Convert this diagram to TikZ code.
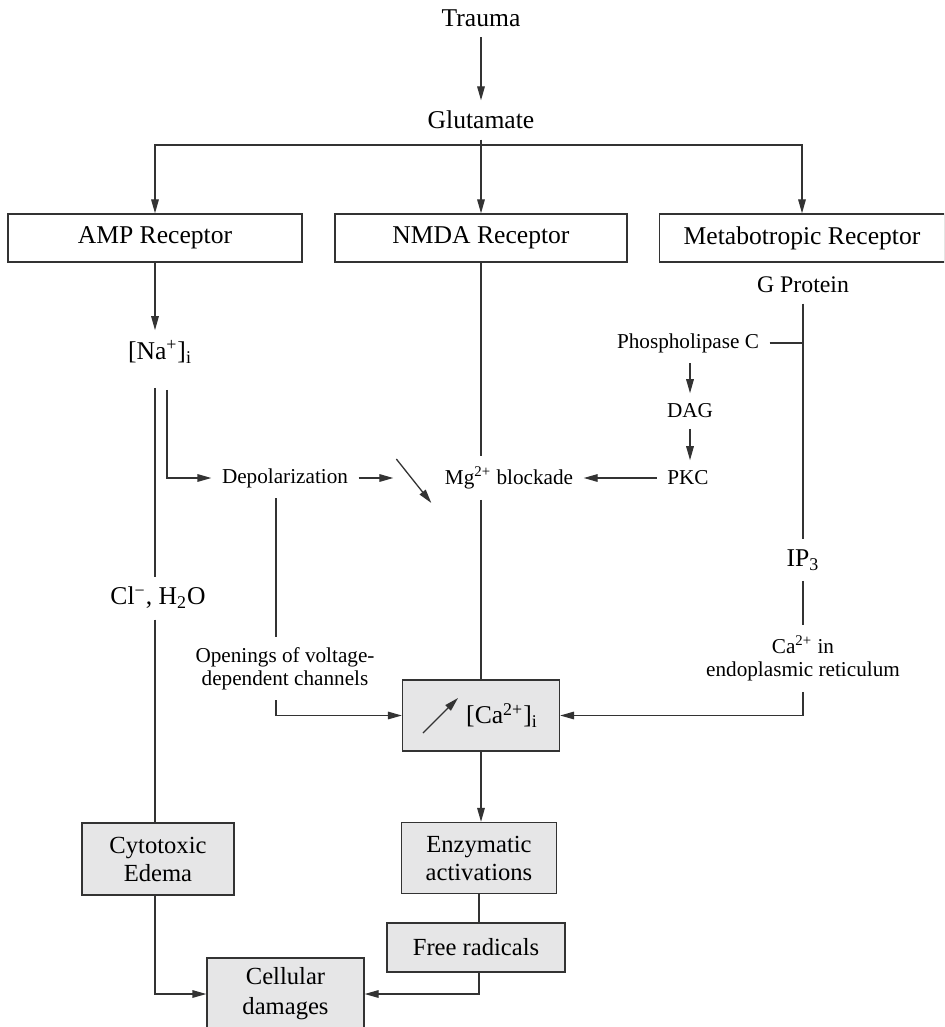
\documentclass[tikz,border=0pt]{standalone}
\usepackage{fontspec}
\setmainfont{Liberation Serif}
\usetikzlibrary{arrows.meta}

\definecolor{linegray}{HTML}{333333}
\definecolor{boxgray}{HTML}{E6E6E7}
\newcommand{\bigsz}{\fontsize{12.8}{15}\selectfont}
\newcommand{\midsz}{\fontsize{11.9}{14}\selectfont}
\newcommand{\boxsz}{\fontsize{12.3}{14}\selectfont}
\newcommand{\smallsz}{\fontsize{10.6}{11.5}\selectfont}

\tikzset{
	lbl/.style={inner sep=5pt, font=\smallsz, align=center},
	rec/.style={draw=linegray, fill=white, minimum height=24pt, font=\bigsz},
	stage/.style={draw=linegray, fill=boxgray, align=center, font=\boxsz},
	arr/.style={-{Triangle[length=7pt,width=3.8pt]}},
}

\begin{document}
\begin{tikzpicture}[x=0.5pt, y=-0.5pt, line width=0.65pt, color=linegray, text=black]
	\clip (0,0) rectangle (944,1027);

	\node[lbl, font=\bigsz] (trauma) at (481,18) {Trauma};
	\node[lbl, font=\bigsz] (glut) at (481,120) {Glutamate};
	\coordinate (split) at (481,145);

	\node[rec, minimum width=147pt] (amp) at (155,238) {AMP Receptor};
	\node[rec, minimum width=146pt] (nmda) at (481,238) {NMDA Receptor};
	\node[rec, minimum width=142.5pt] (metab) at (802,238) {Metabotropic Receptor};

	\node[lbl, font=\midsz] (gprot) at (803,285) {G Protein};
	\node[lbl] (plc) at (688,343) {Phospholipase C};
	\node[lbl] (dag) at (690,411) {DAG};
	\node[lbl] (pkc) at (688,478) {PKC};
	\node[lbl, font=\bigsz] (na) at (160,352) {[Na\textsuperscript{+}]\textsubscript{i}};
	\node[lbl] (depol) at (285,478) {Depolarization};
	\node[lbl] (mg) at (509,478) {Mg\textsuperscript{2+} blockade};
	\coordinate (dec) at ([xshift=-20.5pt]mg.west);
	\node[lbl, font=\bigsz] (ip3) at (803,560) {IP\textsubscript{3}};
	\node[lbl, font=\bigsz] (cl) at (158,598) {Cl\textsuperscript{−}, H\textsubscript{2}O};
	\node[lbl] (open) at (285,668.5) {Openings of voltage-\\dependent channels};
	\node[lbl] (er) at (803,658.5) {Ca\textsuperscript{2+} in\\endoplasmic reticulum};

	\node[stage, minimum width=78.5pt, minimum height=35.5pt, font=\bigsz] (ca) at (481,715.5) {\hspace*{21pt}[Ca\textsuperscript{2+}]\textsubscript{i}};
	\node[stage, minimum width=76pt, minimum height=36pt] (cyto) at (158,859) {Cytotoxic\\Edema};
	\node[stage, minimum width=77.5pt, minimum height=35.5pt] (enz) at (479,858) {Enzymatic\\activations};
	\node[stage, minimum width=89pt, minimum height=24.5pt] (free) at (476,947.5) {Free radicals};
	\node[stage, minimum width=78.5pt, minimum height=36pt, font=\fontsize{12.3}{15}\selectfont] (cell) at (285.5,994) {Cellular\\damages};

	\draw[arr] (trauma) -- (glut);
	\draw (glut) -- (split);
	\draw[arr] (split) -- (nmda);
	\draw[arr] (split) -| (amp);
	\draw[arr] (split) -| (metab);

	\draw[arr] (amp.south) -- (amp.south |- na.north);
	\draw[shorten <=7pt] (na.south -| amp) -- (cl.north -| amp);
	\draw[arr, shorten <=8pt] ([xshift=3.5pt]na.south) |- (depol.west);
	\draw (cl.south -| amp) -- (cyto.north -| amp);
	\draw[arr] (cyto.south -| amp) |- (cell.west);

	\draw[arr] (depol) -- (dec);
	\draw[arr] ([shift={(-19pt,9.5pt)}]mg.west) -- ([shift={(-1.5pt,-12.5pt)}]mg.west);
	\draw (nmda.south) -- (nmda.south |- mg.north);
	\draw (nmda.south |- mg.south) -- (ca.north);

	\draw (gprot) -- (ip3);
	\draw (plc.east) -- (plc.east -| gprot);
	\draw[arr] (plc.south -| dag) -- (dag);
	\draw[arr] (dag) -- (dag |- pkc.north);
	\draw[arr] (pkc) -- (mg);
	\draw (ip3) -- (er);
	\draw[arr] (er.south) |- (ca.east);

	\draw ([xshift=-4.5pt]depol.south) -- ([xshift=-4.5pt]open.north);
	\draw[arr] ([xshift=-4.5pt]open.south) |- (ca.west);
	\draw[arr] ([shift={(-29pt,-8.75pt)}]ca.center) -- ([shift={(-11.5pt,8.75pt)}]ca.center);

	\draw[arr] (ca.south) -- (ca.south |- enz.north);
	\draw (enz.south) -- (enz.south |- free.north);
	\draw[arr] (free.south -| enz) |- (cell.east);
\end{tikzpicture}
\end{document}
